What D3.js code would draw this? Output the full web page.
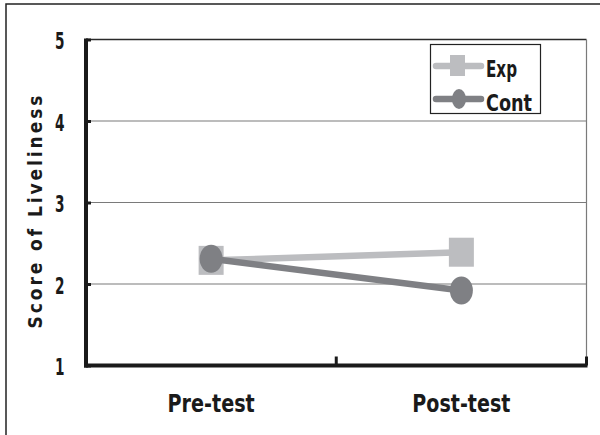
<!DOCTYPE html>
<html><head><meta charset="utf-8">
<script src="https://cdn.jsdelivr.net/npm/d3@7"></script>
<style>
html,body{margin:0;padding:0;background:#fff;}
svg{display:block;}
text{font-family:"DejaVu Sans Condensed","DejaVu Sans","Liberation Sans",sans-serif;font-stretch:condensed;font-weight:bold;fill:#1a1a1a;}
</style></head>
<body><svg id="c" width="600" height="435"></svg>
<script>
const categories = ["Pre-test", "Post-test"];
const expValues = [2.29, 2.39];
const contValues = [2.31, 1.92];
const yTicks = [1, 2, 3, 4, 5];
const seriesNames = ["Exp", "Cont"];
const yTitle = "Score of Liveliness";

const svg = d3.select("#c");
const L = 86, R = 586.5, T = 39.5, B = 365.5;
const x = d3.scaleBand().domain(categories).range([L, R]).padding(0);
const y = d3.scaleLinear().domain([1, 5]).range([B, T]);
const cx = d => x(d) + x.bandwidth() / 2;

// outer frame
svg.append("path").attr("d", "M6,435 V4 H600").attr("fill", "none").attr("stroke", "#222").attr("stroke-width", 1.5);

// gridlines
svg.append("g").selectAll("line").data(yTicks.filter(t => t > 1)).join("line")
  .attr("x1", L).attr("x2", R).attr("y1", d => y(d)).attr("y2", d => y(d))
  .attr("stroke", d => d === 5 ? "#2a2a2a" : "#7a7a7a").attr("stroke-width", d => d === 5 ? 1.6 : 1.2);
// right plot border
svg.append("line").attr("x1", R).attr("x2", R).attr("y1", T).attr("y2", B).attr("stroke", "#7a7a7a").attr("stroke-width", 1.2);

// y axis
const yAxis = d3.axisRight(y).tickValues(yTicks).tickSize(5).tickFormat("");
const gy = svg.append("g").attr("transform", `translate(${L},0)`).call(yAxis);
gy.select(".domain").remove();
gy.selectAll(".tick line").attr("stroke", "#1a1a1a").attr("stroke-width", 3);
svg.append("line").attr("x1", L).attr("x2", L).attr("y1", T - 1).attr("y2", B + 2).attr("stroke", "#1a1a1a").attr("stroke-width", 4);
svg.append("g").selectAll("text").data(yTicks).join("text")
  .attr("x", 55).attr("y", d => y(d) + 9.5)
  .attr("font-size", 23).attr("textLength", 9.5).attr("lengthAdjust", "spacingAndGlyphs").text(d => d);

// x axis
const xTickPos = [x(categories[1]), R];
svg.append("g").selectAll("line").data(xTickPos).join("line")
  .attr("x1", d => d).attr("x2", d => d).attr("y1", B - 9).attr("y2", B)
  .attr("stroke", "#1a1a1a").attr("stroke-width", 3);
svg.append("line").attr("x1", L - 2).attr("x2", R + 1).attr("y1", B).attr("y2", B).attr("stroke", "#1a1a1a").attr("stroke-width", 4);
svg.append("g").selectAll("text").data(categories).join("text")
  .attr("x", d => cx(d) - d.length * 5.45).attr("y", 411.5)
  .attr("font-size", 24).attr("textLength", d => d.length * 10.9).attr("lengthAdjust", "spacingAndGlyphs")
  .text(d => d);

// y title
svg.append("text").attr("transform", "translate(42,212) rotate(-90)")
  .attr("text-anchor", "middle").attr("font-size", 19)
  .attr("textLength", 233).attr("lengthAdjust", "spacing").text(yTitle);

// series
const expColor = "#bcbdc0", contColor = "#7f8084";
const line = d3.line().x(d => cx(d[0])).y(d => y(d[1]));
const expPts = categories.map((c, i) => [c, expValues[i]]);
const contPts = categories.map((c, i) => [c, contValues[i]]);

svg.append("path").datum(expPts).attr("d", line).attr("fill", "none").attr("stroke", expColor).attr("stroke-width", 6.5);
svg.append("g").selectAll("rect").data(expPts).join("rect")
  .attr("x", d => cx(d[0]) - 12.5).attr("y", d => y(d[1]) - 14.5)
  .attr("width", 25).attr("height", 29).attr("fill", expColor);
svg.append("path").datum(contPts).attr("d", line).attr("fill", "none").attr("stroke", contColor).attr("stroke-width", 6.5);
svg.append("g").selectAll("ellipse").data(contPts).join("ellipse")
  .attr("cx", d => cx(d[0])).attr("cy", d => y(d[1]))
  .attr("rx", 11.5).attr("ry", 14).attr("fill", contColor);

// legend
const lg = svg.append("g");
lg.append("rect").attr("x", 430.5).attr("y", 44.5).attr("width", 110).attr("height", 69)
  .attr("fill", "#fff").attr("stroke", "#222").attr("stroke-width", 1.2);
const legendRows = [
  {name: seriesNames[0], color: expColor, yy: 66, base: 77, w: 31, shape: "rect"},
  {name: seriesNames[1], color: contColor, yy: 99, base: 110.5, w: 46, shape: "circle"}
];
legendRows.forEach(r => {
  lg.append("line").attr("x1", 436).attr("x2", 481).attr("y1", r.yy).attr("y2", r.yy)
    .attr("stroke", r.color).attr("stroke-width", 6.5).attr("stroke-linecap", "round");
  if (r.shape === "rect") {
    lg.append("rect").attr("x", 450).attr("y", r.yy - 11).attr("width", 15).attr("height", 21).attr("fill", r.color);
  } else {
    lg.append("ellipse").attr("cx", 459).attr("cy", r.yy).attr("rx", 7).attr("ry", 10).attr("fill", r.color);
  }
  lg.append("text").attr("x", 486).attr("y", r.base).attr("font-size", 23)
    .attr("textLength", r.w).attr("lengthAdjust", "spacingAndGlyphs").text(r.name);
});
</script></body></html>
